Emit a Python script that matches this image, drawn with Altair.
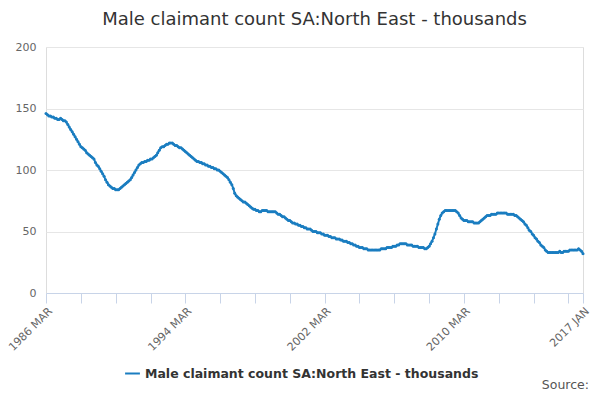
import pandas as pd
import altair as alt

series_name = 'Male claimant count SA:North East - thousands'

y1986 = [146, 145, 144, 144, 143, 143, 142, 142, 141, 141]  # Mar-Dec
y1987 = [142, 141, 140, 140, 139, 137, 135, 133, 131, 129, 127, 125]
y1988 = [123, 121, 119, 118, 117, 116, 114, 113, 112, 111, 110, 109]
y1989 = [106, 104, 103, 101, 99, 97, 95, 92, 90, 88, 87, 86]
y1990 = [85, 85, 84, 84, 84, 85, 86, 87, 88, 89, 90, 91]
y1991 = [92, 94, 96, 98, 100, 102, 104, 105, 106, 106, 107, 107]
y1992 = [108, 108, 109, 109, 110, 111, 112, 114, 116, 118, 119, 119]
y1993 = [120, 121, 121, 122, 122, 122, 121, 120, 120, 119, 118, 118]
y1994 = [117, 116, 115, 114, 113, 112, 111, 110, 109, 108, 107, 107]
y1995 = [106, 106, 105, 105, 104, 104, 103, 103, 102, 102, 101, 101]
y1996 = [100, 100, 99, 98, 97, 96, 95, 94, 92, 90, 88, 85]
y1997 = [81, 79, 78, 77, 76, 75, 74, 74, 73, 72, 71, 70]
y1998 = [69, 68, 68, 67, 67, 66, 66, 67, 67, 67, 67, 66]
y1999 = [66, 66, 66, 66, 66, 65, 64, 64, 63, 62, 62, 61]
y2000 = [60, 59, 59, 58, 57, 57, 56, 56, 55, 55, 54, 54]
y2001 = [53, 53, 52, 52, 52, 51, 50, 50, 50, 49, 49, 49]
y2002 = [48, 48, 47, 47, 47, 46, 46, 45, 45, 45, 44, 44]
y2003 = [44, 43, 43, 42, 42, 42, 41, 41, 40, 40, 39, 39]
y2004 = [38, 38, 37, 37, 37, 36, 36, 36, 35, 35, 35, 35]
y2005 = [35, 35, 35, 35, 35, 36, 36, 36, 36, 37, 37, 37]
y2006 = [37, 38, 38, 38, 39, 39, 40, 40, 40, 40, 40, 39]
y2007 = [39, 39, 39, 38, 38, 38, 38, 37, 37, 37, 37, 36]
y2008 = [36, 37, 38, 40, 42, 45, 48, 52, 56, 60, 63, 65]
y2009 = [66, 67, 67, 67, 67, 67, 67, 67, 67, 66, 65, 63]
y2010 = [61, 60, 59, 59, 59, 58, 58, 58, 58, 57, 57, 57]
y2011 = [57, 58, 59, 60, 61, 62, 63, 63, 63, 64, 64, 64]
y2012 = [64, 65, 65, 65, 65, 65, 65, 65, 64, 64, 64, 64]
y2013 = [64, 63, 63, 62, 61, 60, 59, 58, 56, 55, 53, 51]
y2014 = [50, 48, 47, 45, 44, 42, 41, 39, 38, 37, 35, 34]
y2015 = [33, 33, 33, 33, 33, 33, 33, 33, 34, 33, 33, 34]
y2016 = [34, 34, 34, 35, 35, 35, 35, 35, 35, 36, 35, 34]
y2017 = [32]  # Jan

values = (y1986 + y1987 + y1988 + y1989 + y1990 + y1991 + y1992 + y1993 + y1994
          + y1995 + y1996 + y1997 + y1998 + y1999 + y2000 + y2001 + y2002 + y2003
          + y2004 + y2005 + y2006 + y2007 + y2008 + y2009 + y2010 + y2011 + y2012
          + y2013 + y2014 + y2015 + y2016 + y2017)
dates = pd.date_range('1986-03-01', periods=len(values), freq='MS').strftime('%Y-%m-%d')
df = pd.DataFrame({'date': dates, 'value': values, 'series': series_name})

tick_dates = [alt.DateTime(year=1986 + 2 * i, month=3, date=1, utc=True) for i in range(16)]
tick_dates.append(alt.DateTime(year=2017, month=1, date=1, utc=True))
label_expr = ("indexof(['1986-03','1994-03','2002-03','2010-03','2017-01'], utcFormat(datum.value,'%Y-%m')) >= 0"
              " ? upper(utcFormat(datum.value,'%Y %b')) : ''")

color = '#1a7dc0'
line = alt.Chart(df).mark_line(point=alt.OverlayMarkDef(size=9, filled=True), strokeWidth=2).encode(
    x=alt.X('date:T', title=None,
            scale=alt.Scale(domain=[alt.DateTime(year=1986, month=3, date=1, utc=True),
                                    alt.DateTime(year=2017, month=1, date=1, utc=True)]),
            axis=alt.Axis(values=tick_dates, labelExpr=label_expr, labelAngle=315, grid=False,
                          domainColor='#c8d4e8', tickColor='#c8d4e8', tickSize=10,
                          labelColor='#666666', labelFontSize=11, labelAlign='right', labelPadding=2)),
    y=alt.Y('value:Q', title=None,
            scale=alt.Scale(domain=[0, 200]),
            axis=alt.Axis(values=[0, 50, 100, 150, 200], domain=False, ticks=False,
                          gridColor='#e6e6e6', labelColor='#666666', labelFontSize=11, labelPadding=10)),
    color=alt.Color('series:N', scale=alt.Scale(range=[color]),
                    legend=alt.Legend(title=None, orient='none', legendX=78, legendY=318,
                                      labelFontSize=12.5, labelFontWeight='bold', labelLimit=0,
                                      labelColor='#333333', symbolType='stroke', symbolStrokeWidth=2,
                                      symbolSize=220))
)

source = alt.Chart(pd.DataFrame({'text': ['Source:']})).mark_text(
    align='right', baseline='middle', fontSize=12.5, color='#555555').encode(
    x=alt.value(543), y=alt.value(338), text='text:N'
)

chart = alt.layer(line, source).properties(
    width=537, height=246,
    autosize=alt.AutoSizeParams(type='none'),
    padding={'left': 38, 'top': 39, 'right': 9, 'bottom': 99},
    title=alt.TitleParams(series_name, fontSize=18, fontWeight='normal', color='#333333', offset=12)
).configure_view(stroke=None).configure(font='DejaVu Sans')

chart.save("out.html", embed_options={"renderer": "svg", "actions": False})
